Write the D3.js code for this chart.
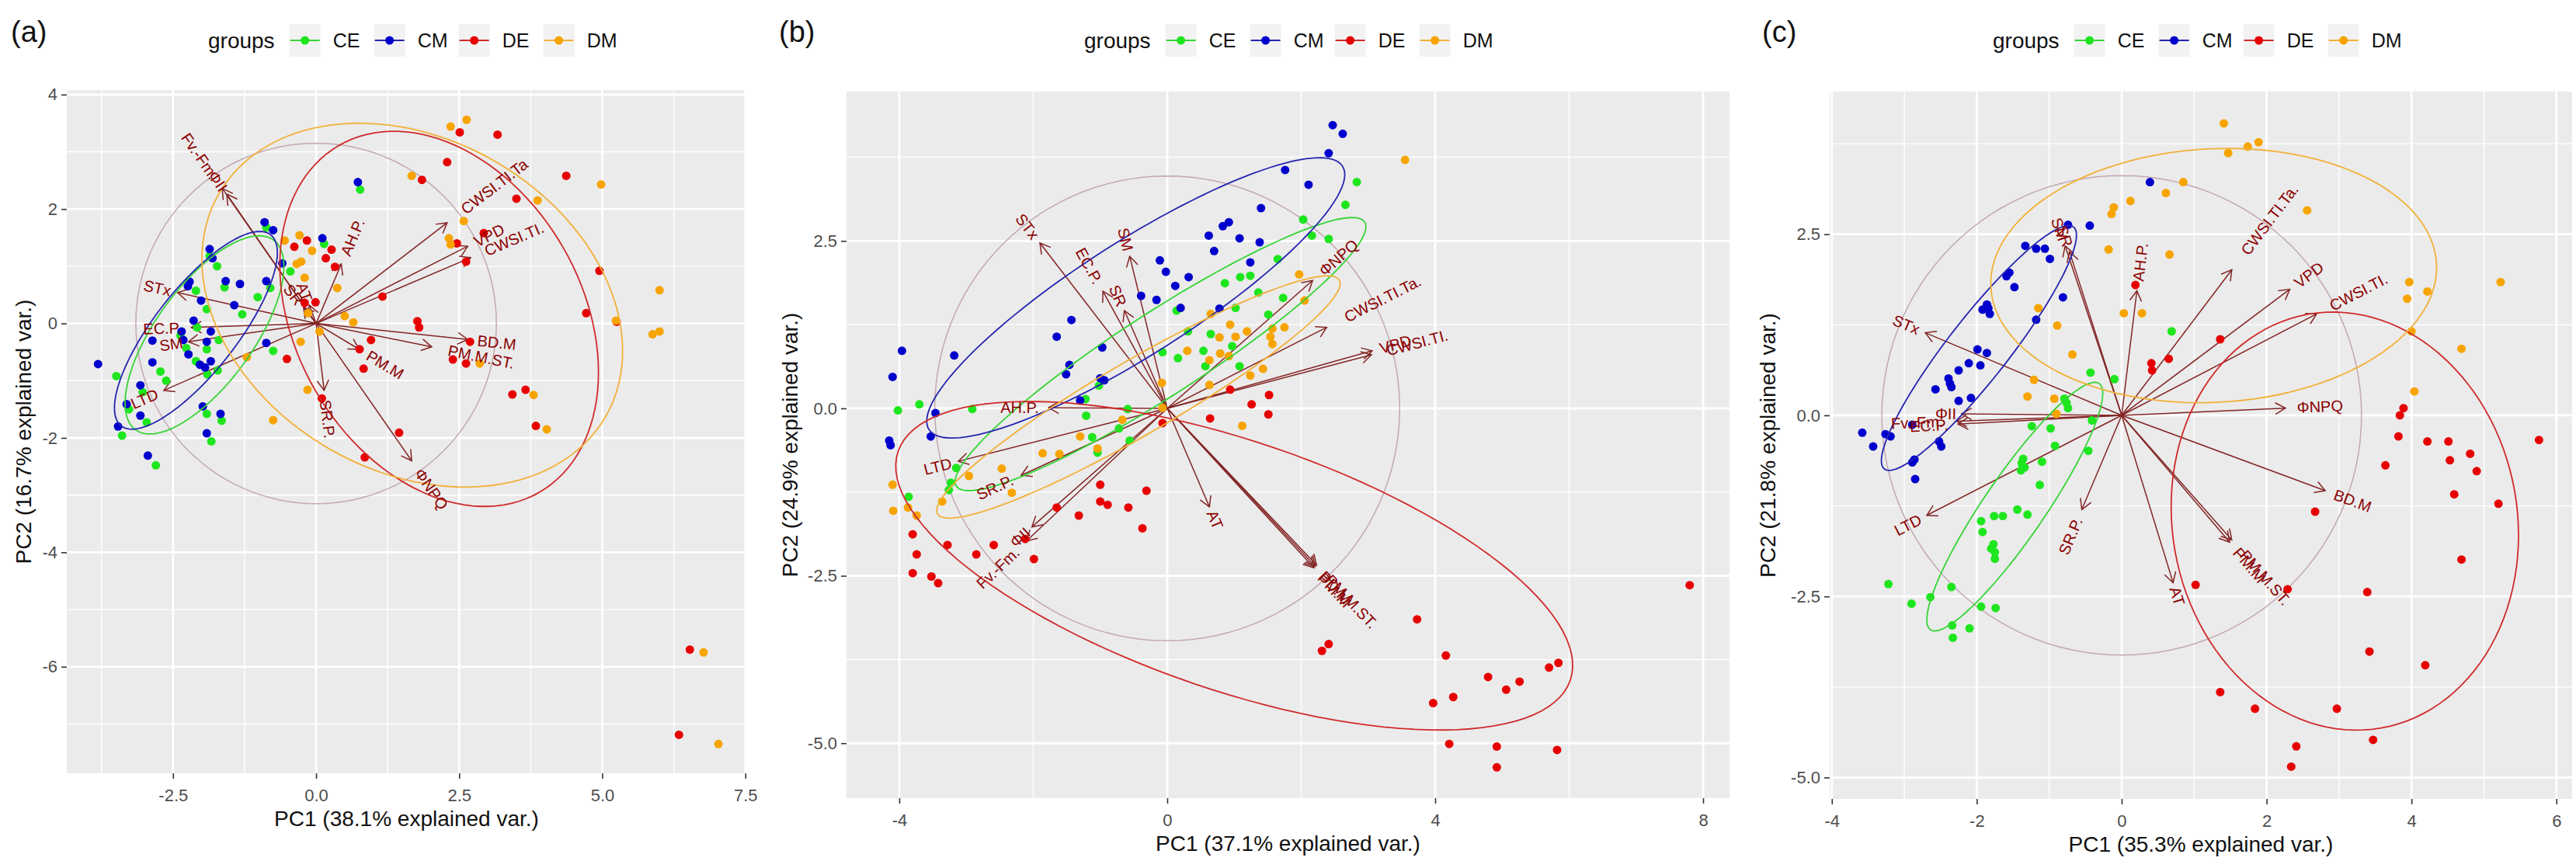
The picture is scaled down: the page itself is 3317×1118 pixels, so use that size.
<!DOCTYPE html>
<html lang="en">
<head>
<meta charset="UTF-8">
<script src="https://cdn.jsdelivr.net/npm/d3@7"></script>
<title>PCA biplots</title>
<style>
  body { margin: 0; background: #fff; }
  text { font-family: "Liberation Sans", Arial, sans-serif; }
</style>
</head>
<body>
<svg id="chart" width="3317" height="1118"></svg>
<script>
// ---------- data ----------
const groups = ["CE", "CM", "DE", "DM"];

const xTitles = ["PC1 (38.1% explained var.)", "PC1 (37.1% explained var.)", "PC1 (35.3% explained var.)"];
const yTitles = ["PC2 (16.7% explained var.)", "PC2 (24.9% explained var.)", "PC2 (21.8% explained var.)"];

const xTickVals = [[-2.5, 0, 2.5, 5, 7.5], [-4, 0, 4, 8], [-4, -2, 0, 2, 4, 6]];
const xTickLabels = [["-2.5", "0.0", "2.5", "5.0", "7.5"], ["-4", "0", "4", "8"], ["-4", "-2", "0", "2", "4", "6"]];
const yTickVals = [[-6, -4, -2, 0, 2, 4], [-5, -2.5, 0, 2.5], [-5, -2.5, 0, 2.5]];
const yTickLabels = [["-6", "-4", "-2", "0", "2", "4"], ["-5.0", "-2.5", "0.0", "2.5"], ["-5.0", "-2.5", "0.0", "2.5"]];

const circleR = [3.15, 3.47, 3.31];

// panel (a) scores
const scoresA_CE = [[0.77,2.34],[-0.87,1.68],[-1.86,1.18],[-1.73,1.00],[0.14,1.39],[-0.45,0.91],[-1.60,0.63],[-0.80,0.62],[-2.10,0.57],[-1.91,0.25],[-1.29,0.16],[-1.02,0.46],[-2.08,-0.07],[-2.37,-0.21],[-1.70,-0.29],[-1.91,-0.45],[-2.27,-0.43],[-0.75,-0.48],[-2.10,-0.66],[-1.72,-0.82],[-1.90,-0.89],[-2.72,-0.84],[-2.62,-1.00],[-3.49,-0.92],[-3.27,-1.50],[-2.96,-1.73],[-3.39,-1.96],[-1.91,-1.58],[-1.65,-1.70],[-1.83,-2.06],[-2.80,-2.48],[-3.03,-1.20]];
const scoresA_CM = [[0.73,2.47],[-0.90,1.77],[-0.75,1.63],[-1.86,1.30],[-1.81,1.14],[0.11,1.49],[-0.59,1.05],[-2.21,0.73],[-1.58,0.74],[-1.33,0.69],[-0.87,0.74],[-2.24,0.65],[-1.43,0.32],[-2.01,0.40],[-2.14,0.05],[-2.35,-0.14],[-2.32,-0.29],[-1.84,-0.14],[-1.91,-0.32],[-2.86,-0.30],[-2.23,-0.54],[-0.87,-0.34],[-1.84,-0.66],[-2.03,-0.72],[-1.94,-0.77],[-2.86,-0.68],[-3.81,-0.71],[-3.07,-1.08],[-3.31,-1.41],[-3.07,-1.61],[-3.46,-1.80],[-1.98,-1.45],[-1.67,-1.58],[-1.91,-1.92],[-2.94,-2.31]];
const scoresA_DE = [[1.85,2.51],[-0.38,1.34],[-0.16,1.45],[0.27,1.29],[0.17,1.14],[0.33,0.99],[2.51,3.34],[3.17,3.30],[2.29,2.82],[4.37,2.58],[3.50,2.18],[2.93,1.58],[2.46,1.40],[2.62,1.08],[4.95,0.92],[4.72,0.18],[1.16,0.47],[1.77,0.04],[1.80,-0.07],[-0.01,0.37],[-0.20,0.36],[-0.51,-0.62],[0.76,-0.45],[0.96,-0.29],[0.83,-0.79],[0.10,-1.31],[1.45,-1.91],[0.85,-2.34],[2.69,-0.32],[2.39,-0.63],[2.62,-0.70],[3.43,-1.24],[3.66,-1.16],[3.84,-1.79],[5.25,0.03],[6.53,-5.70],[6.34,-7.19]];
const scoresA_DM = [[1.67,2.58],[-0.55,1.45],[-0.29,1.54],[-0.07,1.27],[-0.34,1.04],[-0.26,1.08],[-0.20,0.80],[0.37,0.62],[2.35,3.44],[2.63,3.56],[4.98,2.43],[3.87,2.15],[2.58,1.79],[2.32,1.49],[2.35,1.38],[6.00,0.58],[5.24,0.05],[0.50,0.13],[0.65,0.02],[-0.14,0.18],[0.06,-0.14],[-0.27,-0.32],[-1.21,-0.59],[-0.15,-1.16],[-0.75,-1.69],[2.86,-0.70],[3.80,-1.25],[4.03,-1.85],[5.88,-0.19],[6.00,-0.14],[6.77,-5.75],[7.03,-7.35]];

// panel (b) scores
const scoresB_CE = [[2.83,3.38],[2.66,3.04],[2.03,2.82],[2.16,2.58],[2.41,2.53],[1.65,2.23],[1.09,1.96],[1.24,1.98],[0.86,1.87],[1.36,1.73],[1.73,1.65],[1.02,1.50],[0.14,1.46],[1.51,1.40],[0.31,1.15],[0.65,1.11],[0.97,0.93],[-0.07,0.84],[0.16,0.75],[0.54,0.86],[0.57,0.63],[1.08,0.63],[-1.02,0.34],[-1.22,0.14],[-4.02,-0.03],[-3.70,0.06],[-2.91,-0.01],[-0.59,-0.01],[-1.21,-0.11],[-0.72,-0.30],[-1.12,-0.43],[-1.04,-0.66],[-0.56,-0.48],[-3.15,-0.89],[-3.23,-1.11],[-3.26,-1.22],[-3.86,-1.32]];
const scoresB_CM = [[2.47,4.23],[2.62,4.10],[2.41,3.81],[1.76,3.56],[2.11,3.34],[1.40,2.99],[0.92,2.78],[0.83,2.72],[0.62,2.58],[1.08,2.54],[1.38,2.48],[0.70,2.35],[-0.11,2.21],[-0.02,2.04],[0.32,1.96],[1.24,2.18],[0.12,1.83],[-0.39,1.68],[-0.16,1.62],[0.20,1.50],[0.78,1.49],[-1.43,1.32],[-1.65,1.07],[-0.97,0.91],[-1.46,0.65],[-1.51,0.51],[-1.00,0.45],[-0.94,0.42],[-3.96,0.86],[-3.18,0.79],[-4.10,0.47],[-1.30,0.12],[-3.46,-0.07],[-4.15,-0.48],[-4.13,-0.55],[-3.53,-0.42]];
const scoresB_DE = [[1.52,0.20],[1.26,0.06],[1.51,-0.09],[0.94,0.28],[0.64,-0.15],[-0.07,-0.22],[-1.00,-1.14],[-0.31,-1.23],[-1.00,-1.39],[-0.89,-1.44],[-1.65,-1.48],[-0.58,-1.48],[-1.32,-1.60],[-0.37,-1.79],[-3.80,-1.88],[-2.12,-1.95],[-3.28,-2.04],[-2.59,-2.04],[-3.74,-2.18],[-2.85,-2.18],[-1.99,-2.25],[-3.80,-2.46],[-3.52,-2.51],[-3.42,-2.61],[3.73,-3.15],[2.31,-3.62],[2.41,-3.52],[4.16,-3.69],[4.79,-4.01],[5.26,-4.08],[5.06,-4.20],[3.97,-4.40],[4.27,-4.31],[4.21,-5.01],[4.92,-5.05],[4.92,-5.36],[5.70,-3.87],[5.84,-3.80],[5.82,-5.10],[7.80,-2.64]];
const scoresB_DM = [[3.55,3.71],[1.97,2.00],[2.05,1.61],[0.65,1.41],[0.94,1.25],[1.57,1.19],[1.75,1.21],[1.19,1.15],[0.78,1.06],[1.02,1.07],[1.54,1.07],[1.57,0.96],[0.30,0.86],[0.79,0.82],[0.92,0.78],[0.63,0.72],[1.43,0.59],[1.24,0.49],[0.63,0.35],[-0.08,0.38],[-0.07,0.01],[1.12,-0.26],[-0.67,-0.17],[-1.30,-0.42],[-1.86,-0.67],[-1.61,-0.68],[-1.04,-0.60],[-2.47,-0.90],[-2.96,-1.01],[-4.10,-1.14],[-2.32,-1.26],[-3.36,-1.39],[-4.09,-1.53],[-3.87,-1.48],[-3.74,-1.60]];

// panel (c) scores
const scoresC_CE = [[0.69,1.16],[-0.43,0.59],[-0.10,0.50],[-0.79,0.23],[-0.76,0.17],[-0.74,0.10],[-0.41,-0.07],[-1.24,-0.15],[-0.98,-0.18],[-0.92,-0.42],[-0.46,-0.49],[-1.36,-0.60],[-1.38,-0.66],[-1.34,-0.72],[-1.39,-0.76],[-1.10,-0.64],[-1.13,-0.96],[-1.44,-1.30],[-1.30,-1.37],[-1.76,-1.39],[-1.64,-1.39],[-1.94,-1.46],[-1.92,-1.61],[-1.77,-1.78],[-1.80,-1.84],[-1.75,-1.89],[-1.75,-1.98],[-3.22,-2.33],[-2.35,-2.37],[-2.64,-2.51],[-2.90,-2.60],[-1.94,-2.64],[-1.74,-2.66],[-2.34,-2.90],[-2.10,-2.94],[-2.33,-3.07]];
const scoresC_CM = [[0.39,3.22],[-0.74,2.63],[-0.44,2.62],[-1.33,2.34],[-1.18,2.30],[-1.06,2.30],[-0.99,2.16],[-1.55,1.97],[-1.59,1.92],[-1.48,1.77],[-0.81,1.63],[-1.86,1.53],[-1.84,1.48],[-1.92,1.46],[-1.82,1.40],[-1.18,1.32],[-1.99,0.91],[-1.86,0.86],[-2.11,0.72],[-1.95,0.69],[-2.25,0.62],[-2.39,0.51],[-2.37,0.44],[-2.35,0.39],[-2.57,0.36],[-2.25,0.20],[-2.08,0.24],[-3.58,-0.24],[-3.26,-0.26],[-3.19,-0.29],[-2.89,-0.13],[-3.43,-0.43],[-2.52,-0.36],[-2.49,-0.43],[-2.89,-0.65],[-2.86,-0.61],[-2.85,-0.88]];
const scoresC_DE = [[0.19,1.80],[1.36,1.05],[0.65,0.78],[0.41,0.72],[0.42,0.62],[3.89,0.10],[3.84,0.00],[3.82,-0.29],[4.22,-0.36],[4.51,-0.36],[5.76,-0.34],[4.81,-0.53],[4.53,-0.62],[4.90,-0.77],[3.64,-0.69],[4.59,-1.09],[5.20,-1.22],[2.67,-1.33],[4.69,-1.99],[1.02,-2.34],[2.29,-2.40],[3.39,-2.44],[3.42,-3.26],[4.19,-3.45],[1.36,-3.82],[1.84,-4.05],[2.97,-4.05],[3.47,-4.48],[2.41,-4.57],[2.34,-4.85]];
const scoresC_DM = [[1.41,4.03],[1.74,3.71],[1.89,3.77],[1.47,3.62],[0.85,3.22],[0.61,3.07],[0.12,2.96],[-0.11,2.87],[-0.14,2.78],[2.56,2.83],[-0.18,2.29],[0.66,2.22],[3.97,1.84],[4.22,1.71],[3.94,1.61],[5.23,1.84],[4.00,1.16],[4.69,0.92],[4.04,0.33],[-1.15,1.48],[0.03,1.41],[0.28,1.41],[-0.89,1.24],[-0.68,0.84],[-1.21,0.49],[-1.30,0.26],[-0.93,0.23],[-0.90,0.02]];

// variable loadings: [name, PC1, PC2]
const loadingsA = [["Fv.-Fm.",-1.64,2.36],["ΦII",-1.56,2.26],["AH.P.",0.44,1.04],["CWSI.TI.Ta",2.29,1.76],["VPD",2.65,1.35],["CWSI.TI.",2.70,1.15],["BD.M",2.65,-0.28],["PM.M.ST.",2.02,-0.41],["PM.M",0.75,-0.45],["SR.P.",0.14,-1.17],["ΦNPQ",1.67,-2.40],["STx",-2.42,0.54],["EC.P.",-2.18,-0.07],["SM",-2.23,-0.32],["LTD",-2.66,-1.17],["SR",-0.22,0.28],["AT",-0.12,0.32]];
const loadingsB = [["STx",-1.90,2.47],["EC.P.",-0.96,1.75],["SR",-0.64,1.46],["SM",-0.56,2.27],["ΦNPQ",2.17,1.91],["CWSI.TI.Ta.",2.38,1.21],["VPD",3.06,0.86],["CWSI.TI.",3.05,0.80],["AH.P.",-1.77,0.01],["LTD",-3.12,-0.79],["SR.P.",-2.18,-1.00],["Fv.-Fm.",-2.10,-1.98],["ΦII",-2.02,-1.77],["AT",0.63,-1.47],["BD.M",2.21,-2.36],["PM.M",2.19,-2.38],["PM.M.ST.",2.23,-2.34]];
const loadingsC = [["STx",-2.71,1.14],["SM",-0.78,2.34],["SR",-0.72,2.26],["AH.P.",0.21,1.72],["CWSI.TI.Ta.",1.52,2.01],["VPD",2.32,1.74],["CWSI.TI.",2.69,1.40],["ΦNPQ",2.26,0.10],["ΦII",-2.21,0.02],["EC.P.",-2.26,-0.12],["Fv.-Fm.",-2.28,-0.08],["LTD",-2.69,-1.38],["SR.P.",-0.55,-1.30],["AT",0.71,-2.31],["PM.M",1.49,-1.75],["PM.M.ST.",1.52,-1.72],["BD.M",2.81,-1.04]];

// group ellipses: [group, centre PC1, centre PC2, semi-major, semi-minor, angle deg]
const ellipsesA = [["CE",-1.95,-0.20,2.05,0.85,54],["CM",-2.10,-0.12,2.12,0.72,52],["DE",2.15,0.08,3.5,2.5,-60],["DM",1.68,0.32,3.9,2.9,-30]];
const ellipsesB = [["CE",-0.10,0.81,3.63,0.62,32.9],["CM",-0.47,1.65,3.66,0.85,32.5],["DE",1.0,-2.35,5.3,1.86,-18.8],["DM",-0.43,0.17,3.47,0.55,30.2]];
const ellipsesC = [["CE",-1.475,-1.26,2.06,0.42,55.6],["CM",-1.97,0.93,2.12,0.42,52],["DE",3.08,-1.46,2.9,2.38,-80],["DM",1.27,1.93,3.08,1.75,3]];

// ---------- styling / layout ----------
const pointColor = {CE: "#1ee61e", CM: "#0000cd", DE: "#e60000", DM: "#f7a400"};
const lineColor = {CE: "#36d436", CM: "#2424b0", DE: "#d02a2a", DM: "#f2b038"};

const panels = [
  {letter: "(a)", letterX: 14, left: 86, right: 961, top: 116, bottom: 996, xDom: [-4.356, 7.517], yDom: [-7.862, 4.079], yTitleX: 30, legendX: 268,
   scores: {CE: scoresA_CE, CM: scoresA_CM, DE: scoresA_DE, DM: scoresA_DM}, loadings: loadingsA, ellipses: ellipsesA},
  {letter: "(b)", letterX: 1003, left: 1090, right: 2227, top: 118, bottom: 1028, xDom: [-4.788, 8.394], yDom: [-5.820, 4.730], yTitleX: 1017, legendX: 1396,
   scores: {CE: scoresB_CE, CM: scoresB_CM, DE: scoresB_DE, DM: scoresB_DM}, loadings: loadingsB, ellipses: ellipsesB},
  {letter: "(c)", letterX: 2269, left: 2356, right: 3312, top: 118, bottom: 1029, xDom: [-4.03, 6.217], yDom: [-5.295, 4.469], yTitleX: 2276, legendX: 2566,
   scores: {CE: scoresC_CE, CM: scoresC_CM, DE: scoresC_DE, DM: scoresC_DM}, loadings: loadingsC, ellipses: ellipsesC}
];

const svg = d3.select("#chart");

const ellipsePoints = (cx, cy, a, b, deg) => {
  const th = deg * Math.PI / 180;
  return d3.range(0, 121).map(k => {
    const t = 2 * Math.PI * k / 120;
    return [cx + a * Math.cos(t) * Math.cos(th) - b * Math.sin(t) * Math.sin(th),
            cy + a * Math.cos(t) * Math.sin(th) + b * Math.sin(t) * Math.cos(th)];
  });
};

const minorTicks = (major, dom) => {
  const step = major[1] - major[0];
  const out = [];
  for (let v = major[0] - step / 2; v <= dom[1]; v += step) if (v >= dom[0]) out.push(v);
  return out;
};

panels.forEach((P, i) => {
  const x = d3.scaleLinear().domain(P.xDom).range([P.left, P.right]);
  const y = d3.scaleLinear().domain(P.yDom).range([P.bottom, P.top]);
  const line = d3.line().x(d => x(d[0])).y(d => y(d[1]));
  const g = svg.append("g");

  svg.append("clipPath").attr("id", "clip" + i).append("rect")
    .attr("x", P.left).attr("y", P.top).attr("width", P.right - P.left).attr("height", P.bottom - P.top);

  g.append("rect").attr("x", P.left).attr("y", P.top)
    .attr("width", P.right - P.left).attr("height", P.bottom - P.top).attr("fill", "#ebebeb");

  // grid
  const grid = g.append("g");
  minorTicks(xTickVals[i], P.xDom).forEach(v => grid.append("line")
    .attr("x1", x(v)).attr("x2", x(v)).attr("y1", P.top).attr("y2", P.bottom).attr("stroke", "#fff").attr("stroke-width", 1.4));
  minorTicks(yTickVals[i], P.yDom).forEach(v => grid.append("line")
    .attr("y1", y(v)).attr("y2", y(v)).attr("x1", P.left).attr("x2", P.right).attr("stroke", "#fff").attr("stroke-width", 1.4));
  xTickVals[i].forEach(v => grid.append("line")
    .attr("x1", x(v)).attr("x2", x(v)).attr("y1", P.top).attr("y2", P.bottom).attr("stroke", "#fff").attr("stroke-width", 2.8));
  yTickVals[i].forEach(v => grid.append("line")
    .attr("y1", y(v)).attr("y2", y(v)).attr("x1", P.left).attr("x2", P.right).attr("stroke", "#fff").attr("stroke-width", 2.8));

  const plot = g.append("g").attr("clip-path", `url(#clip${i})`);

  // correlation circle
  plot.append("path").attr("d", line(ellipsePoints(0, 0, circleR[i], circleR[i], 0)))
    .attr("fill", "none").attr("stroke", "#c2a8b1").attr("stroke-width", 1.5);

  // variable arrows
  const ox = x(0), oy = y(0);
  P.loadings.forEach(([name, vx, vy]) => {
    const tx = x(vx), ty = y(vy);
    const len = Math.hypot(tx - ox, ty - oy);
    const ux = (tx - ox) / len, uy = (ty - oy) / len;
    const hl = 15, ha = Math.PI / 6;
    const p1 = [tx - hl * (ux * Math.cos(ha) - uy * Math.sin(ha)), ty - hl * (uy * Math.cos(ha) + ux * Math.sin(ha))];
    const p2 = [tx - hl * (ux * Math.cos(ha) + uy * Math.sin(ha)), ty - hl * (uy * Math.cos(ha) - ux * Math.sin(ha))];
    plot.append("line").attr("x1", ox).attr("y1", oy).attr("x2", tx).attr("y2", ty)
      .attr("stroke", "#832424").attr("stroke-width", 1.5);
    plot.append("path").attr("d", `M${p1[0]},${p1[1]}L${tx},${ty}L${p2[0]},${p2[1]}`)
      .attr("fill", "none").attr("stroke", "#832424").attr("stroke-width", 1.5);
  });

  // scores
  groups.forEach(gr => {
    plot.append("g").selectAll("circle").data(P.scores[gr]).join("circle")
      .attr("cx", d => x(d[0])).attr("cy", d => y(d[1])).attr("r", 5.5).attr("fill", pointColor[gr]);
  });

  // ellipses
  P.ellipses.forEach(([gr, cx, cy, a, b, deg]) => {
    plot.append("path").attr("d", line(ellipsePoints(cx, cy, a, b, deg)))
      .attr("fill", "none").attr("stroke", lineColor[gr]).attr("stroke-width", 1.8);
  });

  // variable labels
  P.loadings.forEach(([name, vx, vy]) => {
    const ang = Math.atan(vy / vx) * 180 / Math.PI;
    const t = plot.append("text")
      .attr("transform", `translate(${x(vx)},${y(vy)}) rotate(${-ang})`)
      .attr("dominant-baseline", "central").attr("font-size", 20).attr("fill", "#8b0000").text(name);
    const w = t.node().getComputedTextLength();
    if (vx > 0) t.attr("text-anchor", "start").attr("x", 0.25 * w);
    else t.attr("text-anchor", "end").attr("x", -0.25 * w);
  });

  // axes
  const xAxis = d3.axisBottom(x).tickValues(xTickVals[i]).tickFormat((d, k) => xTickLabels[i][k]).tickSize(7).tickPadding(13);
  const yAxis = d3.axisLeft(y).tickValues(yTickVals[i]).tickFormat((d, k) => yTickLabels[i][k]).tickSize(7).tickPadding(5);
  [g.append("g").attr("transform", `translate(0,${P.bottom})`).call(xAxis),
   g.append("g").attr("transform", `translate(${P.left},0)`).call(yAxis)].forEach(ax => {
    ax.select(".domain").remove();
    ax.selectAll(".tick line").attr("stroke", "#333").attr("stroke-width", 1.6);
    ax.selectAll(".tick text").attr("fill", "#4d4d4d").attr("font-size", 22).attr("font-family", "Liberation Sans, Arial, sans-serif");
  });

  g.append("text").attr("x", (P.left + P.right) / 2).attr("y", P.bottom + 68)
    .attr("text-anchor", "middle").attr("font-size", 28).attr("fill", "#111").text(xTitles[i]);
  g.append("text").attr("transform", `translate(${P.yTitleX + 10},${(P.top + P.bottom) / 2}) rotate(-90)`)
    .attr("text-anchor", "middle").attr("font-size", 28).attr("fill", "#111").text(yTitles[i]);

  // panel letter
  g.append("text").attr("x", P.letterX).attr("y", 54).attr("font-size", 38).attr("fill", "#111").text(P.letter);

  // legend
  const lg = g.append("g");
  const title = lg.append("text").attr("x", P.legendX).attr("y", 62).attr("font-size", 28).attr("fill", "#111").text("groups");
  let kx = P.legendX + title.node().getComputedTextLength() + 39;
  groups.forEach(gr => {
    lg.append("rect").attr("x", kx - 20).attr("y", 31).attr("width", 40).attr("height", 42).attr("fill", "#f2f2f2");
    lg.append("line").attr("x1", kx - 19).attr("x2", kx + 19).attr("y1", 52).attr("y2", 52)
      .attr("stroke", lineColor[gr]).attr("stroke-width", 1.8);
    lg.append("circle").attr("cx", kx).attr("cy", 52).attr("r", 5.5).attr("fill", pointColor[gr]);
    lg.append("text").attr("x", kx + 36).attr("y", 61).attr("font-size", 25).attr("fill", "#111").text(gr);
    kx += 109;
  });
});
</script>
</body>
</html>
